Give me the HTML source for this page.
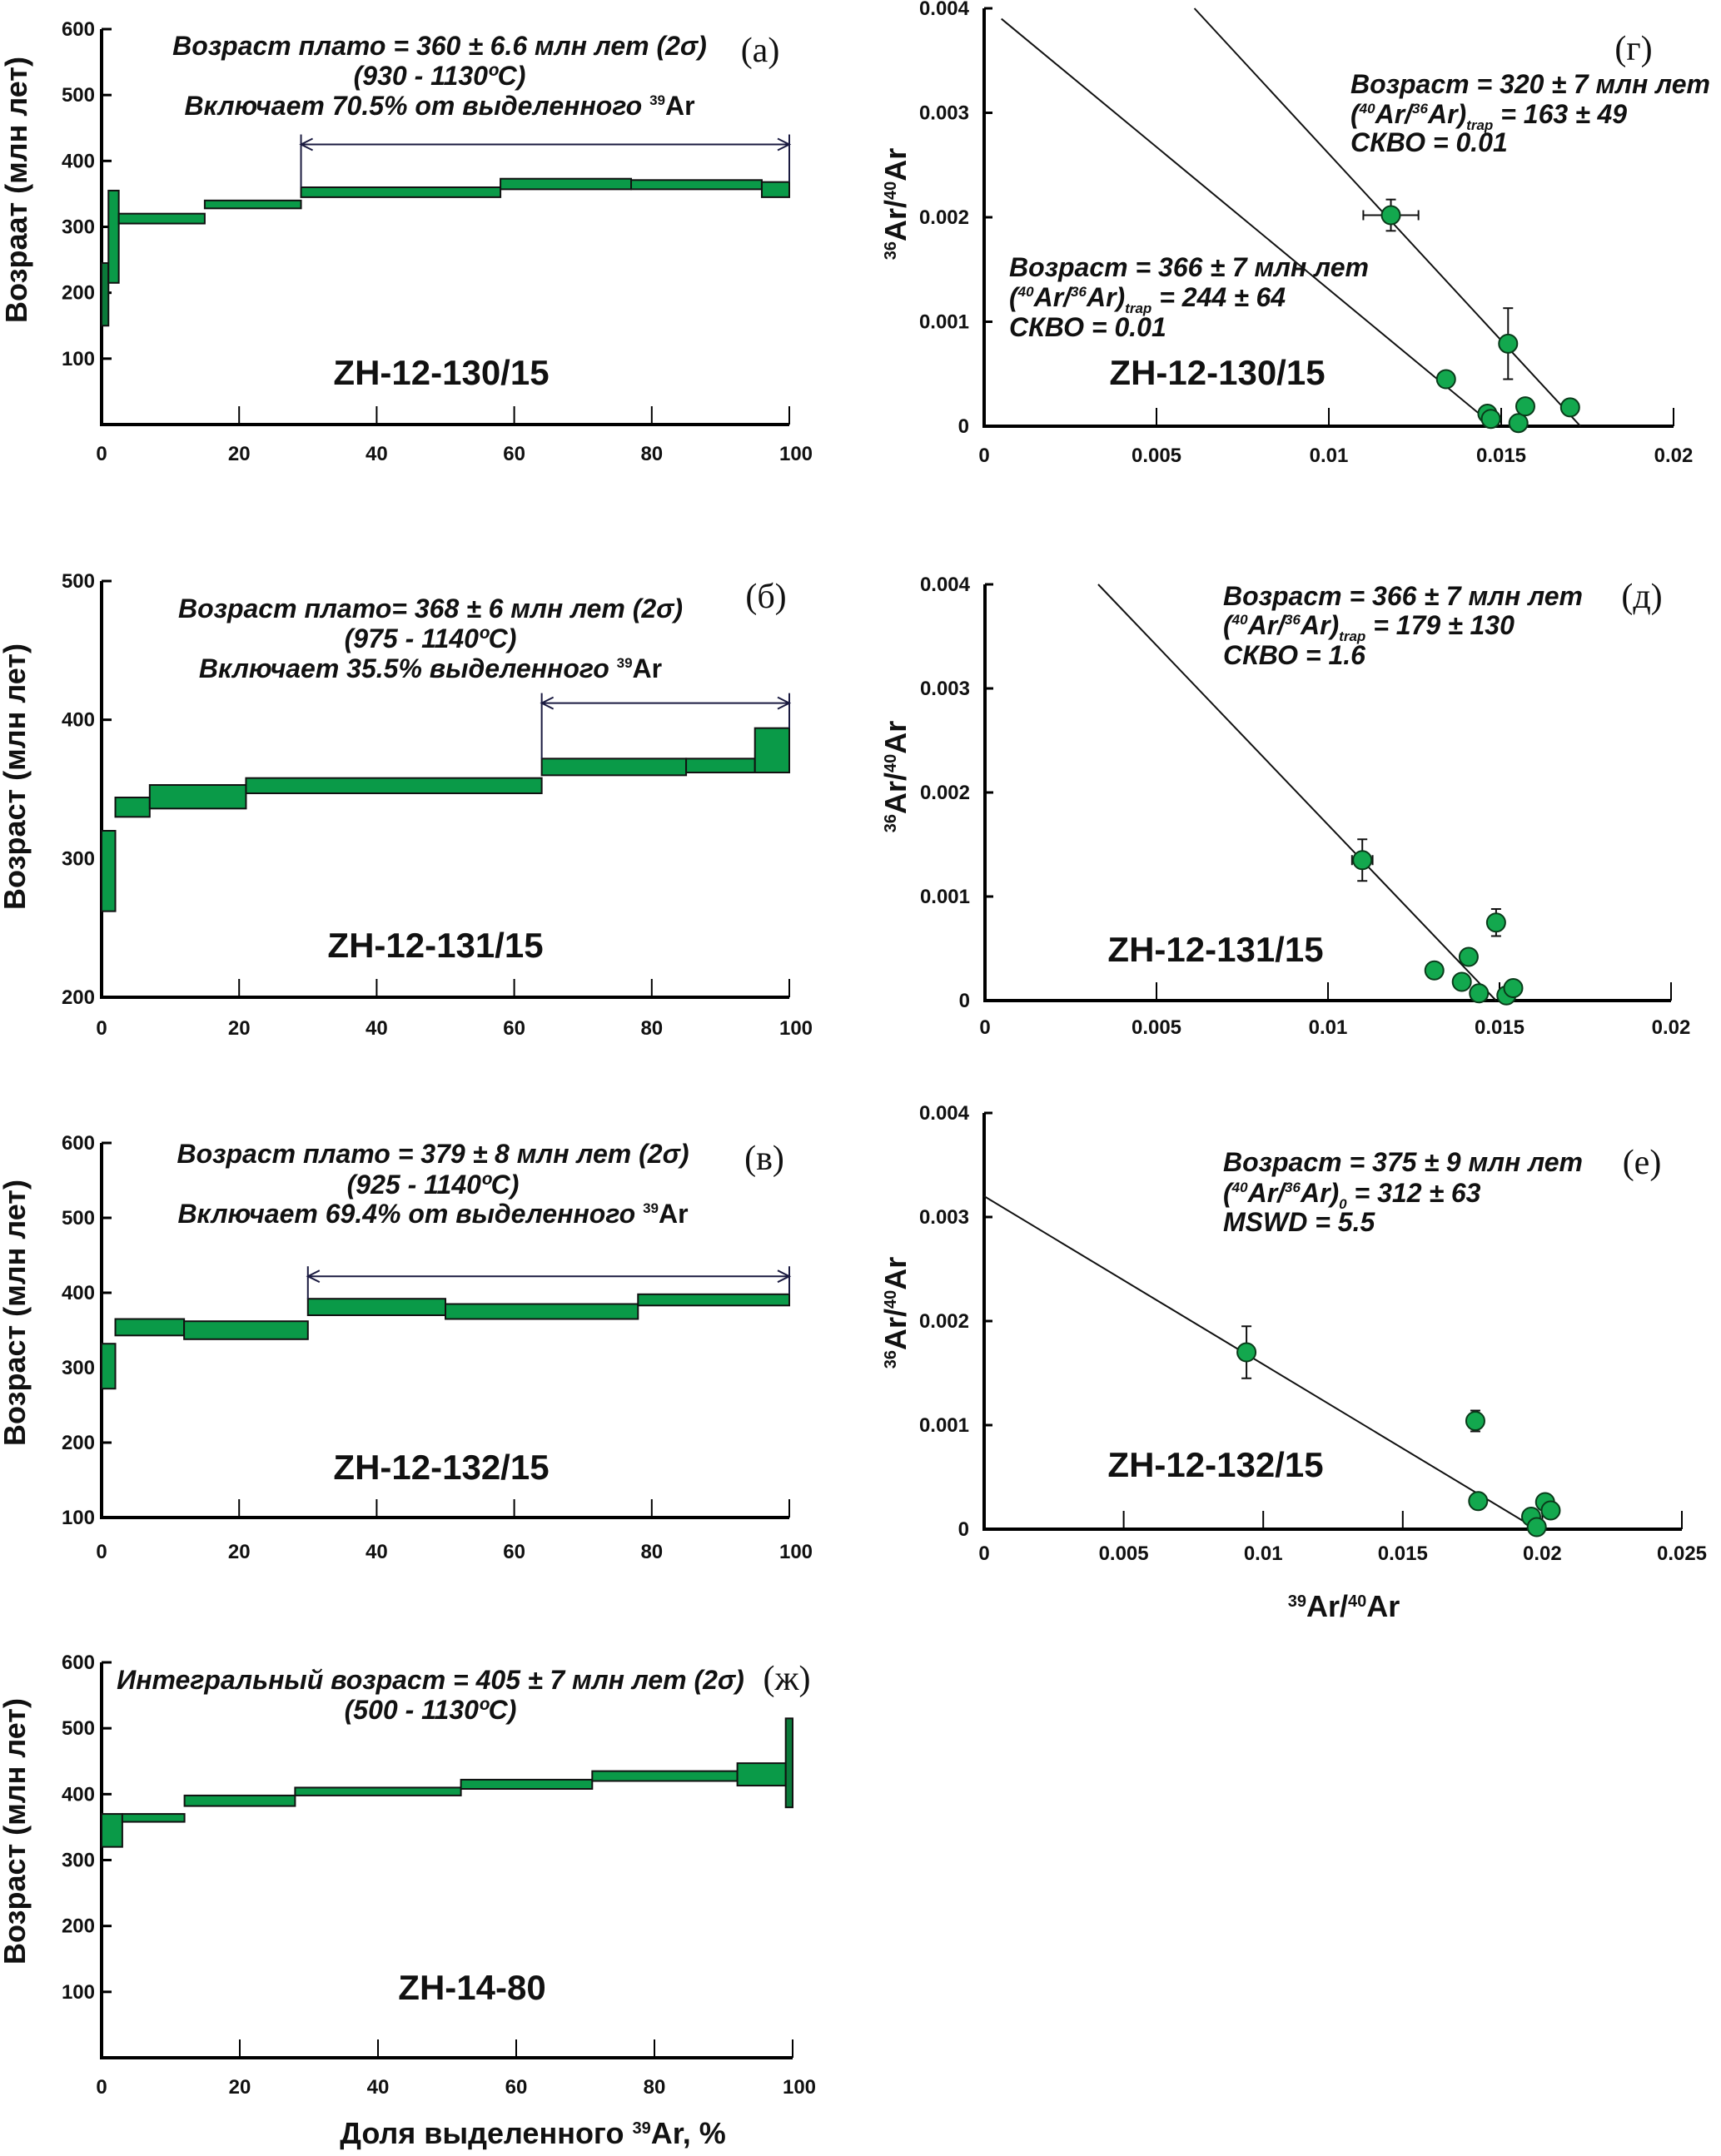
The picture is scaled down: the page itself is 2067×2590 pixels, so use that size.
<!DOCTYPE html>
<html><head><meta charset="utf-8">
<style>
html,body{margin:0;padding:0;background:#fff;}
svg{display:block;}
text{font-family:"Liberation Sans",sans-serif;fill:#111;}
.tick{font-size:24px;font-weight:bold;}
.ann{font-size:32px;font-weight:bold;font-style:italic;}
.name{font-size:42px;font-weight:bold;}
.ytitle{font-size:36px;font-weight:bold;}
.lab{font-family:"Liberation Serif",serif;font-size:40px;}
</style></head>
<body>
<svg id="fig" width="2067" height="2590" viewBox="0 0 2067 2590" xmlns="http://www.w3.org/2000/svg">
<g id="layer"></g>
</svg>
<script>
// ---- spectrum data (x start %, x end %, age low, age high) ----
const aStart=[0,1,2.5,15,29,58,77,96];
const aEnd=[1,2.5,15,29,58,77,96,100];
const aLow=[150,215,305,328,345,357,357,345];
const aHigh=[245,355,320,340,360,373,371,368];
const bStart=[0,2,7,21,64,85,95];
const bEnd=[2,7,21,64,85,95,100];
const bLow=[262,330,336,347,360,362,362];
const bHigh=[320,344,353,358,372,372,394];
const vStart=[0,2,12,30,50,78];
const vEnd=[2,12,30,50,78,100];
const vLow=[272,343,338,370,365,383];
const vHigh=[332,365,362,392,385,398];
const zStart=[0,3,12,28,52,71,92,99];
const zEnd=[3,12,28,52,71,92,99,100];
const zLow=[320,358,382,398,408,420,413,380];
const zHigh=[370,370,398,410,422,435,447,515];
const xTicksPct=[0,20,40,60,80,100];
// ---- isochron data ----
const gX=[0.0118,0.0134,0.0146,0.0147,0.0152,0.0155,0.0157,0.0170];
const gY=[0.00202,0.00045,0.00012,0.00007,0.00079,0.00003,0.00019,0.00018];
const gXe=[0.0008,0,0,0,0.0001,0,0,0];
const gYe=[0.00015,0,0,0,0.00034,0,0,0];
const dX=[0.0110,0.0131,0.0139,0.0141,0.0144,0.0149,0.0152,0.0154];
const dY=[0.00135,0.00029,0.00018,0.00042,0.00007,0.00075,0.00005,0.00012];
const dXe=[0.0003,0,0,0,0,0,0,0];
const dYe=[0.0002,0,0,0,0,0.00013,0,0];
const eX=[0.0094,0.0176,0.0177,0.0196,0.0198,0.0201,0.0203];
const eY=[0.0017,0.00104,0.00027,0.00012,0.00002,0.00026,0.00018];
const eXe=[0,0,0,0,0,0,0];
const eYe=[0.00025,0.0001,0,0,0,0,0];
const isoTicksY=[0,0.001,0.002,0.003,0.004];
const isoTicksY_lab=["0","0.001","0.002","0.003","0.004"];
const isoTicksX2=[0,0.005,0.01,0.015,0.02];
const isoTicksX2_lab=["0","0.005","0.01","0.015","0.02"];
const isoTicksX25=[0,0.005,0.01,0.015,0.02,0.025];
const isoTicksX25_lab=["0","0.005","0.01","0.015","0.02","0.025"];

const NS="http://www.w3.org/2000/svg";
const L=document.getElementById('layer');
function mk(tag,attrs,parent){const e=document.createElementNS(NS,tag);for(const k in attrs)e.setAttribute(k,attrs[k]);(parent||L).appendChild(e);return e;}
function txt(x,y,s,cls,anchor,parent){const t=mk('text',{x:x,y:y,class:cls,'text-anchor':anchor||'start'},parent);t.innerHTML=s;return t;}

function spectrum(id,x0,x1,yv0,yp0,yv1,yp1,yAxisMin,yticks,st,en,lo,hi,plateau,labY){
  const g=mk('g',{});
  
  
  const sx=v=>x0+(x1-x0)*v/100;
  const sy=v=>yp0+(yp1-yp0)*(v-yv0)/(yv1-yv0);
  const base=sy(yAxisMin);
  const ax=mk('path',{d:`M${x0},${sy(yv1)} L${x0},${base} L${x1},${base}`,stroke:'#000','stroke-width':4,fill:'none'},g);
  
  
  yticks.forEach(v=>{mk('line',{x1:x0,x2:x0+12,y1:sy(v),y2:sy(v),stroke:'#000','stroke-width':3},g);
    const t=txt(x0-8,sy(v)+8,v,'tick','end',g);
    
    });
  xTicksPct.forEach(v=>{mk('line',{x1:sx(v),x2:sx(v),y1:base,y2:base-22,stroke:'#000','stroke-width':2},g);
    const t=txt(sx(v)+(v==100?8:0),labY,v,'tick','middle',g);
    
    });
  for(let i=0;i<st.length;i++){
    const w=sx(en[i])-sx(st[i]);
    const r=mk('rect',{x:sx(st[i]),y:sy(hi[i]),width:Math.max(w,3),height:sy(lo[i])-sy(hi[i]),fill:(w<10?'#0b7a3a':'#0a9a48'),stroke:'#111','stroke-width':2},g);
    
    
  }
  if(plateau){
    const [p0,p1,pv]=plateau; const y=sy(pv);
    const iS=st.indexOf(p0);
    const pg=mk('g',{stroke:'#1a1a40','stroke-width':2,fill:'none'},g);
    
    
    mk('line',{x1:sx(p0),x2:sx(p1),y1:y,y2:y},pg);
    mk('line',{x1:sx(p0),x2:sx(p0),y1:y-12,y2:sy(hi[iS>=0?iS:0])},pg);
    mk('line',{x1:sx(p1),x2:sx(p1),y1:y-12,y2:sy(hi[hi.length-1])},pg);
    mk('path',{d:`M${sx(p0)+14},${y-7} L${sx(p0)},${y} L${sx(p0)+14},${y+7}`},pg);
    mk('path',{d:`M${sx(p1)-14},${y-7} L${sx(p1)},${y} L${sx(p1)-14},${y+7}`},pg);
  }
}

function isochron(id,x0,x1,xmax,y0,y1,xt,xtl,X,Y,Xe,Ye,lines,labY){
  const g=mk('g',{});
  
  
  const sx=v=>x0+(x1-x0)*v/xmax;
  const sy=v=>y0+(y1-y0)*v/0.004;
  const ax=mk('path',{d:`M${x0},${y1} L${x0},${y0} L${x1},${y0}`,stroke:'#000','stroke-width':4,fill:'none'},g);
  
  
  isoTicksY.forEach((v,i)=>{mk('line',{x1:x0,x2:x0+10,y1:sy(v),y2:sy(v),stroke:'#000','stroke-width':3},g);
    const t=txt(x0-18,sy(v)+8,isoTicksY_lab[i],'tick','end',g);
    
    });
  xt.forEach((v,i)=>{mk('line',{x1:sx(v),x2:sx(v),y1:y0,y2:y0-22,stroke:'#000','stroke-width':2},g);
    const t=txt(sx(v),labY,xtl[i],'tick','middle',g);
    
    });
  lines.forEach(l=>{const ln=mk('line',{x1:sx(l[0]),y1:sy(l[1]),x2:sx(l[2]),y2:sy(l[3]),stroke:'#111','stroke-width':2},g);
    
    });
  for(let i=0;i<X.length;i++){
    if(Xe[i]>0){mk('line',{x1:sx(X[i]-Xe[i]),x2:sx(X[i]+Xe[i]),y1:sy(Y[i]),y2:sy(Y[i]),stroke:'#111','stroke-width':2},g);
      mk('line',{x1:sx(X[i]-Xe[i]),x2:sx(X[i]-Xe[i]),y1:sy(Y[i])-6,y2:sy(Y[i])+6,stroke:'#111','stroke-width':2},g);
      mk('line',{x1:sx(X[i]+Xe[i]),x2:sx(X[i]+Xe[i]),y1:sy(Y[i])-6,y2:sy(Y[i])+6,stroke:'#111','stroke-width':2},g);}
    if(Ye[i]>0){mk('line',{x1:sx(X[i]),x2:sx(X[i]),y1:sy(Y[i]-Ye[i]),y2:sy(Y[i]+Ye[i]),stroke:'#111','stroke-width':2},g);
      mk('line',{x1:sx(X[i])-6,x2:sx(X[i])+6,y1:sy(Y[i]-Ye[i]),y2:sy(Y[i]-Ye[i]),stroke:'#111','stroke-width':2},g);
      mk('line',{x1:sx(X[i])-6,x2:sx(X[i])+6,y1:sy(Y[i]+Ye[i]),y2:sy(Y[i]+Ye[i]),stroke:'#111','stroke-width':2},g);}
    const c=mk('circle',{cx:sx(X[i]),cy:sy(Y[i]),r:11,fill:'#13a84e',stroke:'#0a3a1a','stroke-width':2},g);
    
    
  }
}

spectrum('spectrum-a',122,948,0,510,600,35,0,[100,200,300,400,500,600],aStart,aEnd,aLow,aHigh,[29,100,425],553);
spectrum('spectrum-b',122,948,200,1198,500,698,200,[200,300,400,500],bStart,bEnd,bLow,bHigh,[64,100,412],1243);
spectrum('spectrum-v',122,948,100,1823,600,1373,100,[100,200,300,400,500,600],vStart,vEnd,vLow,vHigh,[30,100,422],1872);
spectrum('spectrum-zh',122,952,0,2472,600,1997,0,[100,200,300,400,500,600],zStart,zEnd,zLow,zHigh,null,2515);

isochron('isochron-g',1182,2010,0.02,512,10,isoTicksX2,isoTicksX2_lab,gX,gY,gXe,gYe,[[0.0061,0.004,0.0173,0],[0.0005,0.0039,0.0148,0]],555);
isochron('isochron-d',1183,2007,0.02,1202,702,isoTicksX2,isoTicksX2_lab,dX,dY,dXe,dYe,[[0.0033,0.004,0.0149,0]],1242);
isochron('isochron-e',1182,2020,0.025,1837,1337,isoTicksX25,isoTicksX25_lab,eX,eY,eXe,eYe,[[0,0.0032,0.0198,0]],1874);
</script>

<svg style="position:absolute;left:0;top:0" width="2067" height="2590" xmlns="http://www.w3.org/2000/svg">
<style>text{font-family:"Liberation Sans",sans-serif;fill:#111;}
.ann{font-size:32px;font-weight:bold;font-style:italic;}
.name{font-size:42px;font-weight:bold;}
.ytitle{font-size:36px;font-weight:bold;}
.lab{font-family:"Liberation Serif",serif;font-size:42px;}</style>
<!-- a -->
<text class="ytitle" transform="translate(32,228) rotate(-90)" text-anchor="middle">Возраат (млн лет)</text>
<g>
<text x="528" y="66" class="ann" text-anchor="middle">Возраст плато = 360 ± 6.6 млн лет (2σ)</text>
<text x="528" y="102" class="ann" text-anchor="middle">(930 - 1130ºC)</text>
<text x="528" y="138" class="ann" text-anchor="middle">Включает 70.5% от выделенного <tspan font-size="17" dy="-12" font-style="normal">39</tspan><tspan dy="12" font-style="normal">Ar</tspan></text>
</g>
<text class="lab" x="913" y="74" text-anchor="middle">(a)</text>
<text class="name" x="530" y="462" text-anchor="middle">ZH-12-130/15</text>
<!-- g -->
<text class="ytitle" transform="translate(1088,245) rotate(-90)" text-anchor="middle"><tspan font-size="20" dy="-12">36</tspan><tspan dy="12">Ar/</tspan><tspan font-size="20" dy="-12">40</tspan><tspan dy="12">Ar</tspan></text>
<text class="ann" x="1622" y="112">Возраст = 320 ± 7 млн лет</text>
<text class="ann" x="1622" y="148">(<tspan font-size="17" dy="-12">40</tspan><tspan dy="12">Ar/</tspan><tspan font-size="17" dy="-12">36</tspan><tspan dy="12">Ar)</tspan><tspan font-size="17" dy="8">trap</tspan><tspan dy="-8"> = 163 ± 49</tspan></text>
<text class="ann" x="1622" y="182">СКВО = 0.01</text>
<text class="ann" x="1212" y="332">Возраст = 366 ± 7 млн лет</text>
<text class="ann" x="1212" y="368">(<tspan font-size="17" dy="-12">40</tspan><tspan dy="12">Ar/</tspan><tspan font-size="17" dy="-12">36</tspan><tspan dy="12">Ar)</tspan><tspan font-size="17" dy="8">trap</tspan><tspan dy="-8"> = 244 ± 64</tspan></text>
<text class="ann" x="1212" y="404">СКВО = 0.01</text>
<text class="lab" x="1962" y="72" text-anchor="middle">(г)</text>
<text class="name" x="1462" y="462" text-anchor="middle">ZH-12-130/15</text>
<!-- b -->
<text class="ytitle" transform="translate(30,933) rotate(-90)" text-anchor="middle">Возраст (млн лет)</text>
<text class="ann" x="517" y="742" text-anchor="middle">Возраст плато= 368 ± 6 млн лет (2σ)</text>
<text class="ann" x="517" y="778" text-anchor="middle">(975 - 1140ºC)</text>
<text class="ann" x="517" y="814" text-anchor="middle">Включает 35.5% выделенного <tspan font-size="17" dy="-12" font-style="normal">39</tspan><tspan dy="12" font-style="normal">Ar</tspan></text>
<text class="lab" x="920" y="730" text-anchor="middle">(б)</text>
<text class="name" x="523" y="1150" text-anchor="middle">ZH-12-131/15</text>
<!-- d -->
<text class="ytitle" transform="translate(1088,933) rotate(-90)" text-anchor="middle"><tspan font-size="20" dy="-12">36</tspan><tspan dy="12">Ar/</tspan><tspan font-size="20" dy="-12">40</tspan><tspan dy="12">Ar</tspan></text>
<text class="ann" x="1469" y="727">Возраст = 366 ± 7 млн лет</text>
<text class="ann" x="1469" y="762">(<tspan font-size="17" dy="-12">40</tspan><tspan dy="12">Ar/</tspan><tspan font-size="17" dy="-12">36</tspan><tspan dy="12">Ar)</tspan><tspan font-size="17" dy="8">trap</tspan><tspan dy="-8"> = 179 ± 130</tspan></text>
<text class="ann" x="1469" y="798">СКВО = 1.6</text>
<text class="lab" x="1972" y="730" text-anchor="middle">(д)</text>
<text class="name" x="1460" y="1155" text-anchor="middle">ZH-12-131/15</text>
<!-- v -->
<text class="ytitle" transform="translate(30,1577) rotate(-90)" text-anchor="middle">Возраст (млн лет)</text>
<text class="ann" x="520" y="1397" text-anchor="middle">Возраст плато = 379 ± 8 млн лет (2σ)</text>
<text class="ann" x="520" y="1434" text-anchor="middle">(925 - 1140ºC)</text>
<text class="ann" x="520" y="1469" text-anchor="middle">Включает 69.4% от выделенного <tspan font-size="17" dy="-12" font-style="normal">39</tspan><tspan dy="12" font-style="normal">Ar</tspan></text>
<text class="lab" x="918" y="1405" text-anchor="middle">(в)</text>
<text class="name" x="530" y="1777" text-anchor="middle">ZH-12-132/15</text>
<!-- e -->
<text class="ytitle" transform="translate(1088,1577) rotate(-90)" text-anchor="middle"><tspan font-size="20" dy="-12">36</tspan><tspan dy="12">Ar/</tspan><tspan font-size="20" dy="-12">40</tspan><tspan dy="12">Ar</tspan></text>
<text class="ann" x="1469" y="1407">Возраст = 375 ± 9 млн лет</text>
<text class="ann" x="1469" y="1444">(<tspan font-size="17" dy="-12">40</tspan><tspan dy="12">Ar/</tspan><tspan font-size="17" dy="-12">36</tspan><tspan dy="12">Ar)</tspan><tspan font-size="17" dy="8">0</tspan><tspan dy="-8"> = 312 ± 63</tspan></text>
<text class="ann" x="1469" y="1479">MSWD = 5.5</text>
<text class="lab" x="1972" y="1410" text-anchor="middle">(e)</text>
<text class="name" x="1460" y="1774" text-anchor="middle">ZH-12-132/15</text>
<text class="ytitle" x="1614" y="1942" text-anchor="middle"><tspan font-size="20" dy="-12">39</tspan><tspan dy="12">Ar/</tspan><tspan font-size="20" dy="-12">40</tspan><tspan dy="12">Ar</tspan></text>
<!-- zh -->
<text class="ytitle" transform="translate(30,2200) rotate(-90)" text-anchor="middle">Возраст (млн лет)</text>
<text class="ann" x="517" y="2029" text-anchor="middle">Интегральный возраст = 405 ± 7 млн лет (2σ)</text>
<text class="ann" x="517" y="2065" text-anchor="middle">(500 - 1130ºC)</text>
<text class="lab" x="945" y="2030" text-anchor="middle" fill="#111" style="paint-order:stroke" stroke="#fff" stroke-width="6">(ж)</text>
<text class="name" x="567" y="2402" text-anchor="middle">ZH-14-80</text>
<text class="ytitle" x="640" y="2575" text-anchor="middle">Доля выделенного <tspan font-size="20" dy="-12">39</tspan><tspan dy="12">Ar, %</tspan></text>
</svg>
</body></html>
